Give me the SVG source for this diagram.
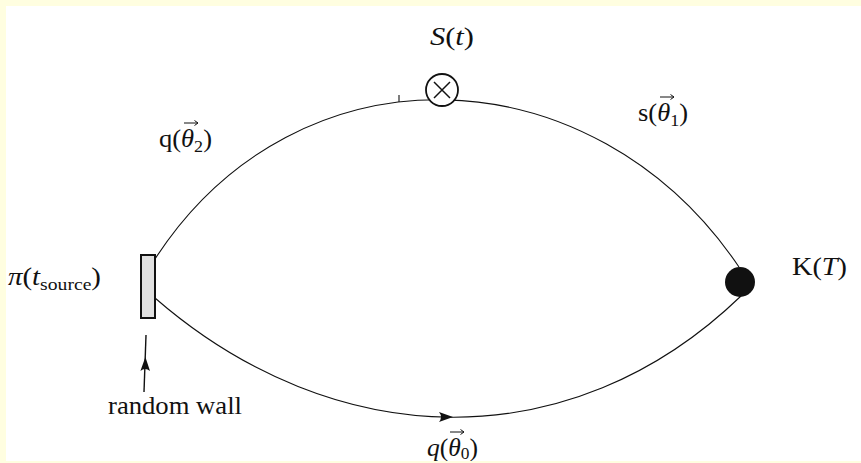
<svg xmlns="http://www.w3.org/2000/svg" width="861" height="463" viewBox="0 0 861 463">
<style>
.lbl{font-family:"Liberation Serif","Times New Roman",serif;font-size:25px;fill:#111}
.it{font-style:italic}
.sub{font-size:17px}
.edge{fill:none;stroke:#111;stroke-width:1.1}
.vec{fill:none;stroke:#111;stroke-width:1}
.head{fill:#111;stroke:none}
</style>
<rect x="0" y="0" width="861" height="463" fill="#fffee0"/>
<rect x="6" y="6" width="855" height="455" fill="#ffffff"/>
<g id="connectors">
  <path class="edge" d="M155,259 C297,40 593,51 739,267"/>
  <path class="edge" d="M155,298 C334,453.5 570,461 741,296"/>
  <path class="head" d="M453,417 L439,412 Q443,417 439,422 Z"/>
  <path class="edge" d="M399,95 L399,102"/>
  <path class="edge" d="M144,392 L146,335" style="stroke-width:1.4"/>
  <path class="head" d="M145.4,357 L140.4,371 Q145,367 150,371 Z"/>
</g>
<g id="wall">
  <rect x="141" y="255" width="14" height="63" fill="#e0e0e0" stroke="#111" stroke-width="2"/>
</g>
<g id="source-S">
  <circle cx="442" cy="90" r="16" fill="#fff" stroke="#111" stroke-width="1.8"/>
  <path d="M434,82 L450,98 M450,82 L434,98" stroke="#111" stroke-width="1.5" fill="none"/>
</g>
<g id="sink-K">
  <circle cx="740" cy="282" r="15" fill="#111"/>
</g>
<g id="label-S">
  <text class="lbl" x="430" y="45" textLength="44" lengthAdjust="spacingAndGlyphs"><tspan class="it">S</tspan>(<tspan class="it">t</tspan>)</text>
</g>
<g id="label-q2">
  <text class="lbl" x="159" y="147" textLength="53" lengthAdjust="spacingAndGlyphs">q(<tspan class="it">θ</tspan><tspan class="sub" dy="5">2</tspan><tspan dy="-5">)</tspan></text>
  <path class="vec" d="M184,123 H198 M194.5,120.5 L198,123 L194.5,125.5"/>
</g>
<g id="label-s1">
  <text class="lbl" x="638" y="121" textLength="50" lengthAdjust="spacingAndGlyphs">s(<tspan class="it">θ</tspan><tspan class="sub" dy="5">1</tspan><tspan dy="-5">)</tspan></text>
  <path class="vec" d="M660,97 H674 M670.5,94.5 L674,97 L670.5,99.5"/>
</g>
<g id="label-pi">
  <text class="lbl" x="8" y="285" textLength="93" lengthAdjust="spacingAndGlyphs"><tspan class="it">π</tspan>(<tspan class="it">t</tspan><tspan class="sub" dy="5">source</tspan><tspan dy="-5">)</tspan></text>
</g>
<g id="label-K">
  <text class="lbl" x="792" y="275" textLength="55" lengthAdjust="spacingAndGlyphs">K(<tspan class="it">T</tspan>)</text>
</g>
<g id="label-wall">
  <text class="lbl" x="108" y="414" textLength="134" lengthAdjust="spacingAndGlyphs">random wall</text>
</g>
<g id="label-q0">
  <text class="lbl" x="427" y="456" textLength="51" lengthAdjust="spacingAndGlyphs"><tspan class="it">q</tspan>(<tspan class="it">θ</tspan><tspan class="sub" dy="3">0</tspan><tspan dy="-3">)</tspan></text>
  <path class="vec" d="M450,432 H464 M460.5,429.5 L464,432 L460.5,434.5"/>
</g>
<rect x="0" y="461" width="861" height="2" fill="#fffee0"/>
</svg>
